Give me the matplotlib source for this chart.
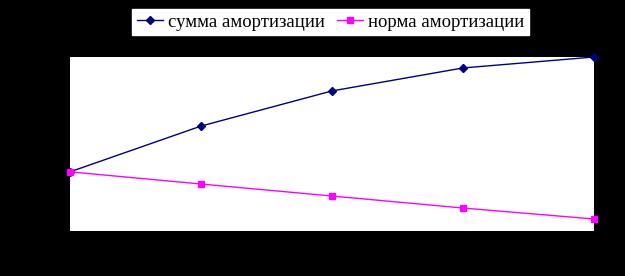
import matplotlib
matplotlib.use("Agg")
import matplotlib.pyplot as plt

periods = [1, 2, 3, 4, 5]
summa = [34.0, 60.3, 80.5, 93.7, 100.0]
norma = [34.0, 27.0, 20.1, 13.2, 6.9]
labels = ["сумма амортизации", "норма амортизации"]

fig = plt.figure(figsize=(6.25, 2.76), dpi=100, facecolor="black")
ax = fig.add_axes([70/625, 45/276, 524/625, 174/276])
ax.set_facecolor("white")
l1, = ax.plot(periods, summa, color="#000080", lw=1.0, marker="D", ms=4.5,
              markerfacecolor="#000080", markeredgecolor="#000080", label=labels[0], clip_on=False)
l2, = ax.plot(periods, norma, color="#FF00FF", lw=1.0, marker="s", ms=5,
              markerfacecolor="#FF00FF", markeredgecolor="#FF00FF", label=labels[1], clip_on=False)
ax.set_xlim(1, 5)
ax.set_ylim(0, 100)
ax.set_xticks([])
ax.set_yticks([])
for s in ax.spines.values():
    s.set_visible(False)

leg = fig.legend(handles=[l1, l2], loc="center", bbox_to_anchor=(330.5/625, 1 - 22/276),
                 ncol=2, frameon=True, fancybox=False, framealpha=1, edgecolor="white",
                 facecolor="white", borderpad=0.25, handlelength=1.4, handletextpad=0.27,
                 columnspacing=0.64, prop={"family": "Liberation Serif", "size": 13.5},
                 markerscale=0.8)
fig.savefig("out.png", dpi=100, facecolor="black")
